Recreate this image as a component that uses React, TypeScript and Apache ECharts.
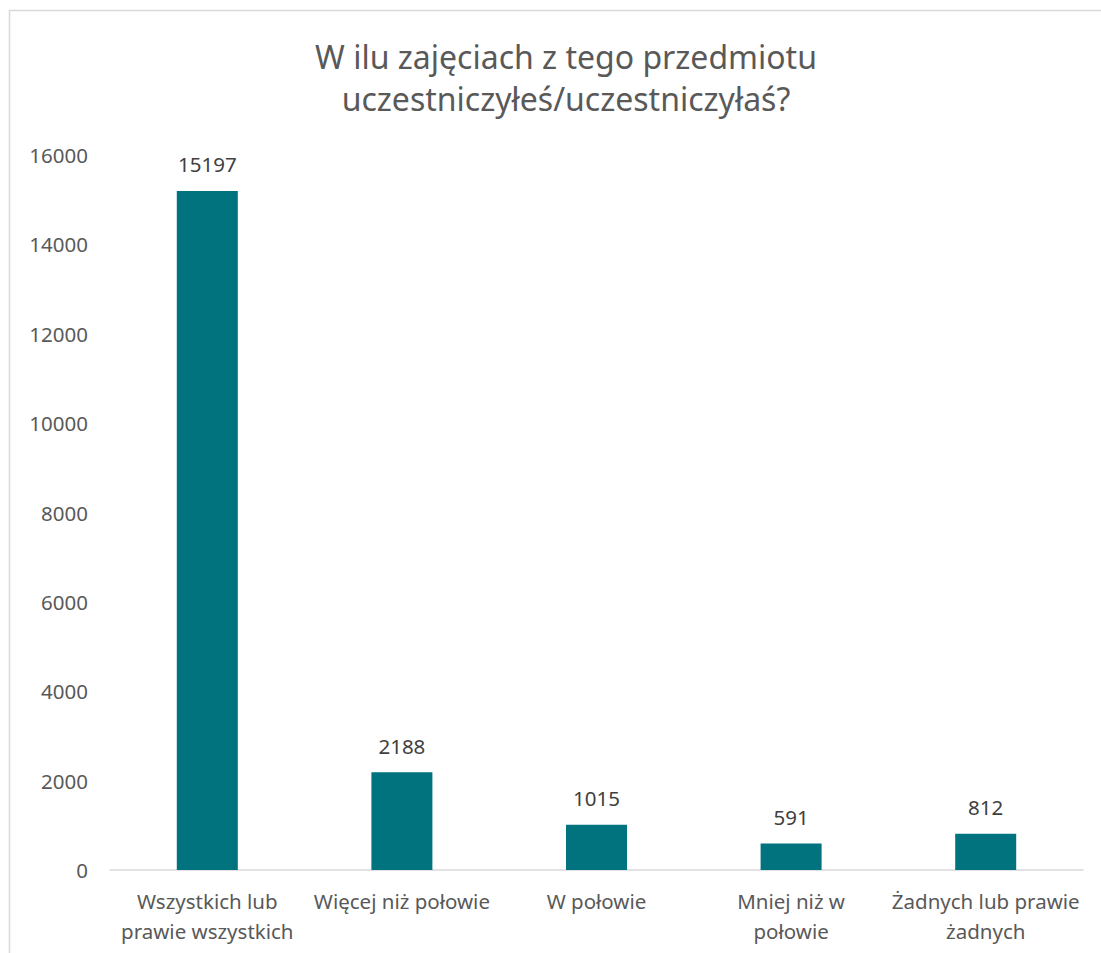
import React, { useEffect, useRef } from "react";
import * as echarts from "echarts";

const titleLines = ["W ilu zajęciach z tego przedmiotu", "uczestniczyłeś/uczestniczyłaś?"];
const categories = [
  "Wszystkich lub\nprawie wszystkich",
  "Więcej niż połowie",
  "W połowie",
  "Mniej niż w\npołowie",
  "Żadnych lub prawie\nżadnych",
];
const values = [15197, 2188, 1015, 591, 812];
const yMin = 0;
const yMax = 16000;
const yInterval = 2000;

const FONT = "'Noto Sans', 'Open Sans', sans-serif";

export default function App() {
  const ref = useRef<HTMLDivElement>(null);
  useEffect(() => {
    if (!ref.current) return;
    const chart = echarts.init(ref.current, undefined, { renderer: "svg" });
    chart.setOption({
      animation: false,
      backgroundColor: "#ffffff",
      title: {
        text: titleLines.join("\n"),
        left: 561,
        top: 30,
        textAlign: "center",
        textStyle: {
          fontFamily: FONT,
          fontSize: 32,
          fontWeight: "normal",
          color: "#595959",
          lineHeight: 42,
        },
      },
      graphic: [
        {
          type: "rect",
          shape: { x: 9.5, y: 10.5, width: 1200, height: 1000 },
          style: { fill: "none", stroke: "#d9d9d9", lineWidth: 1.5 },
          silent: true,
        },
      ],
      grid: { left: 110, right: 18, top: 155, bottom: 83, containLabel: false },
      xAxis: {
        type: "category",
        data: categories,
        axisLine: { show: true, lineStyle: { color: "#d9d9d9", width: 1.5 } },
        axisTick: { show: false },
        axisLabel: {
          interval: 0,
          color: "#595959",
          fontFamily: FONT,
          fontSize: 20.5,
          lineHeight: 30,
          margin: 16,
        },
      },
      yAxis: {
        type: "value",
        min: yMin,
        max: yMax,
        interval: yInterval,
        axisLine: { show: false },
        axisTick: { show: false },
        splitLine: { show: false },
        axisLabel: {
          color: "#595959",
          fontFamily: FONT,
          fontSize: 20.5,
          margin: 22,
          formatter: (v: number) => String(v),
        },
      },
      series: [
        {
          type: "bar",
          data: values,
          barWidth: 61,
          itemStyle: { color: "#00737F" },
          label: {
            show: true,
            position: "top",
            distance: 16,
            color: "#404040",
            fontFamily: FONT,
            fontSize: 20.5,
          },
        },
      ],
    });
    return () => chart.dispose();
  }, []);
  return (
    <div
      ref={ref}
      style={{ position: "fixed", left: 0, top: 0, width: 1101, height: 953 }}
    />
  );
}
